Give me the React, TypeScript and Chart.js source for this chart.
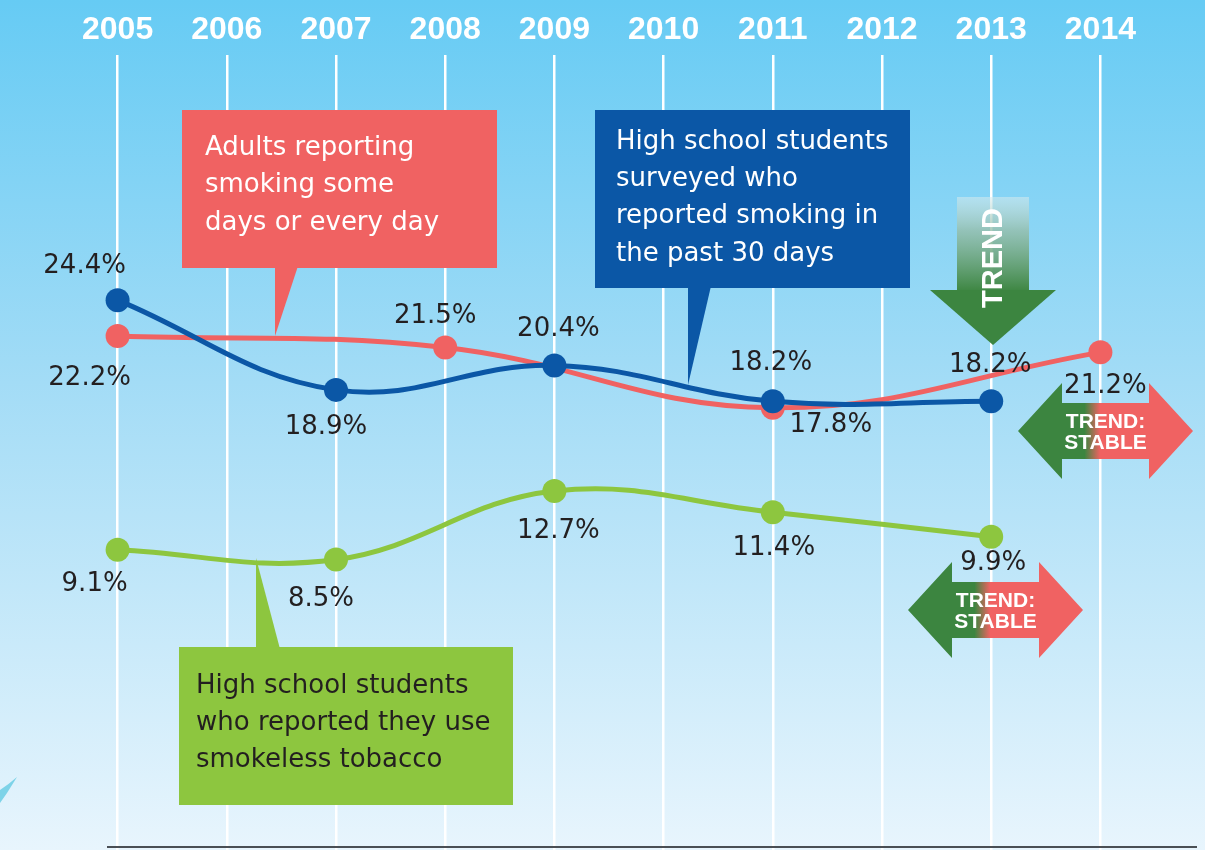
import React, { useEffect, useRef } from 'react';
import { Chart, registerables } from 'chart.js';

Chart.register(...registerables);

// ---------- data ----------
const years = ['2005', '2006', '2007', '2008', '2009', '2010', '2011', '2012', '2013', '2014'];
const hsSmoking = [24.4, null, 18.9, null, 20.4, null, 18.2, null, 18.2, null];
const adultSmoking = [22.2, null, null, 21.5, null, null, 17.8, null, null, 21.2];
const smokeless = [9.1, null, 8.5, null, 12.7, null, 11.4, null, 9.9, null];

const redCallout = ['Adults reporting', 'smoking some', 'days or every day'];
const blueCallout = ['High school students', 'surveyed who', 'reported smoking in', 'the past 30 days'];
const greenCallout = ['High school students', 'who reported they use', 'smokeless tobacco'];
const trendText = 'TREND';
const stableText = ['TREND:', 'STABLE'];

// ---------- styling ----------
const BLUE = '#0b57a6';
const RED = '#f06262';
const GREEN = '#8dc63f';
const DARK_GREEN = '#3c8540';
const TEXT = '#231f20';
const FONT = '"DejaVu Sans", sans-serif';
const BOLD_FONT = '"Liberation Sans", Arial, sans-serif';

// label offsets (dx, dy) relative to the point, per dataset index -> per point index
const labelOffsets: Record<number, Record<number, [number, number]>> = {
  0: { 0: [-33, -34], 2: [-10, 37], 4: [4, -36], 6: [-2, -38], 8: [-1, -36] },
  1: { 0: [-28, 42], 3: [-10, -31], 6: [58, 17], 9: [5, 34] },
  2: { 0: [-23, 34], 2: [-15, 40], 4: [4, 40], 6: [1, 36], 8: [2, 27] },
};

function drawCallout(
  ctx: CanvasRenderingContext2D,
  color: string,
  box: [number, number, number, number],
  tail: [number, number][],
  lines: string[],
  textColor: string,
  textX: number,
  firstY: number,
  lineGap: number
) {
  const [x, y, w, h] = box;
  ctx.save();
  ctx.fillStyle = color;
  ctx.fillRect(x, y, w, h);
  ctx.beginPath();
  ctx.moveTo(tail[0][0], tail[0][1]);
  for (let i = 1; i < tail.length; i++) ctx.lineTo(tail[i][0], tail[i][1]);
  ctx.closePath();
  ctx.fill();
  ctx.fillStyle = textColor;
  ctx.font = `26px ${FONT}`;
  ctx.textAlign = 'left';
  ctx.textBaseline = 'middle';
  lines.forEach((l, i) => ctx.fillText(l, textX, firstY + i * lineGap));
  ctx.restore();
}

function drawStableArrow(ctx: CanvasRenderingContext2D, left: number, cy: number) {
  const total = 175;
  const headW = 44;
  const bodyHalf = 28;
  const headHalf = 48;
  const right = left + total;
  ctx.save();
  const g = ctx.createLinearGradient(left, 0, right, 0);
  g.addColorStop(0, DARK_GREEN);
  g.addColorStop(0.38, DARK_GREEN);
  g.addColorStop(0.47, RED);
  g.addColorStop(1, RED);
  ctx.fillStyle = g;
  ctx.beginPath();
  ctx.moveTo(left, cy);
  ctx.lineTo(left + headW, cy - headHalf);
  ctx.lineTo(left + headW, cy - bodyHalf);
  ctx.lineTo(right - headW, cy - bodyHalf);
  ctx.lineTo(right - headW, cy - headHalf);
  ctx.lineTo(right, cy);
  ctx.lineTo(right - headW, cy + headHalf);
  ctx.lineTo(right - headW, cy + bodyHalf);
  ctx.lineTo(left + headW, cy + bodyHalf);
  ctx.lineTo(left + headW, cy + headHalf);
  ctx.closePath();
  ctx.fill();
  ctx.fillStyle = '#ffffff';
  ctx.font = `bold 21px ${BOLD_FONT}`;
  ctx.textAlign = 'center';
  ctx.textBaseline = 'middle';
  const cx = left + total / 2;
  ctx.fillText(stableText[0], cx, cy - 9);
  ctx.fillText(stableText[1], cx, cy + 12);
  ctx.restore();
}

const decorPlugin = {
  id: 'decor',
  beforeDraw(chart: any) {
    const { ctx, width, height } = chart;
    ctx.save();
    const g = ctx.createLinearGradient(0, 0, 0, height);
    g.addColorStop(0, '#66cbf4');
    g.addColorStop(0.45, '#a3dcf6');
    g.addColorStop(1, '#e8f5fd');
    ctx.fillStyle = g;
    ctx.fillRect(0, 0, width, height);
    ctx.fillStyle = '#7dd3e8';
    ctx.beginPath();
    ctx.moveTo(0, 790);
    ctx.quadraticCurveTo(9, 784, 17, 777);
    ctx.lineTo(7, 793);
    ctx.lineTo(0, 803);
    ctx.closePath();
    ctx.fill();
    ctx.restore();
  },
  beforeDatasetsDraw(chart: any) {
    const { ctx } = chart;
    drawCallout(ctx, RED, [182, 110, 315, 158], [[275, 266], [298, 266], [275, 336]], redCallout, '#ffffff', 205, 148, 37.5);
    drawCallout(ctx, BLUE, [595, 110, 315, 178], [[688, 286], [711, 286], [688, 385]], blueCallout, '#ffffff', 616, 142, 37.3);
    drawCallout(ctx, GREEN, [179, 647, 334, 158], [[256, 649], [280, 649], [256, 558]], greenCallout, TEXT, 196, 686, 37);

    // TREND down arrow
    ctx.save();
    const tg = ctx.createLinearGradient(0, 197, 0, 292);
    tg.addColorStop(0, 'rgba(215,235,238,0.55)');
    tg.addColorStop(0.35, 'rgba(150,190,170,0.8)');
    tg.addColorStop(1, DARK_GREEN);
    ctx.fillStyle = tg;
    ctx.fillRect(957, 197, 72, 94);
    ctx.fillStyle = DARK_GREEN;
    ctx.beginPath();
    ctx.moveTo(930, 290);
    ctx.lineTo(1056, 290);
    ctx.lineTo(993, 345);
    ctx.closePath();
    ctx.fill();
    ctx.translate(993, 258);
    ctx.rotate(-Math.PI / 2);
    ctx.fillStyle = '#ffffff';
    ctx.font = `bold 29px ${BOLD_FONT}`;
    ctx.textAlign = 'center';
    ctx.textBaseline = 'middle';
    ctx.fillText(trendText, 0, 1);
    ctx.restore();

    drawStableArrow(ctx, 1018, 431);
    drawStableArrow(ctx, 908, 610);
  },
  afterDatasetsDraw(chart: any) {
    const { ctx } = chart;
    ctx.save();
    ctx.font = `26px ${FONT}`;
    ctx.fillStyle = TEXT;
    ctx.textAlign = 'center';
    ctx.textBaseline = 'middle';
    chart.data.datasets.forEach((ds: any, di: number) => {
      const meta = chart.getDatasetMeta(di);
      ds.data.forEach((v: number | null, i: number) => {
        if (v === null) return;
        const pt = meta.data[i];
        const off = (labelOffsets[di] && labelOffsets[di][i]) || [0, -30];
        ctx.fillText(`${v.toFixed(1)}%`, pt.x + off[0], pt.y + off[1]);
      });
    });
    ctx.strokeStyle = '#4a4f55';
    ctx.lineWidth = 2;
    ctx.beginPath();
    ctx.moveTo(107, 847);
    ctx.lineTo(1197, 847);
    ctx.stroke();
    ctx.restore();
  },
};

export default function App() {
  const canvasRef = useRef<HTMLCanvasElement | null>(null);

  useEffect(() => {
    document.body.style.margin = '0';
    const canvas = canvasRef.current;
    if (!canvas) return;
    const mkDs = (label: string, data: (number | null)[], color: string) => ({
      label,
      data,
      borderColor: color,
      backgroundColor: color,
      pointBackgroundColor: color,
      pointBorderWidth: 0,
      pointRadius: 12,
      borderWidth: 5,
      tension: 0.4,
      spanGaps: true,
      fill: false,
    });
    const chart = new Chart(canvas, {
      type: 'line',
      data: {
        labels: years,
        datasets: [
          mkDs('High school students who reported smoking in the past 30 days', hsSmoking, BLUE),
          mkDs('Adults reporting smoking some days or every day', adultSmoking, RED),
          mkDs('High school students who reported they use smokeless tobacco', smokeless, GREEN),
        ],
      },
      options: {
        animation: false,
        responsive: true,
        maintainAspectRatio: false,
        layout: { autoPadding: false, padding: { top: 5, left: 63, right: 50, bottom: 0 } },
        plugins: {
          legend: { display: false },
          tooltip: { enabled: false },
        },
        scales: {
          x: {
            type: 'category',
            position: 'top',
            offset: true,
            grid: {
              offset: false,
              color: '#ffffff',
              lineWidth: 2.5,
              drawTicks: false,
            },
            border: { display: false },
            ticks: {
              color: '#ffffff',
              padding: 6,
              font: { family: BOLD_FONT, size: 32, weight: 'bold' },
              maxRotation: 0,
              autoSkip: false,
            },
          },
          y: {
            display: false,
            min: -9.3,
            max: 39.4,
          },
        },
      },
      plugins: [decorPlugin],
    });
    return () => chart.destroy();
  }, []);

  return (
    <div style={{ position: 'absolute', left: 0, top: 0, width: 1205, height: 850 }}>
      <canvas ref={canvasRef} />
    </div>
  );
}
